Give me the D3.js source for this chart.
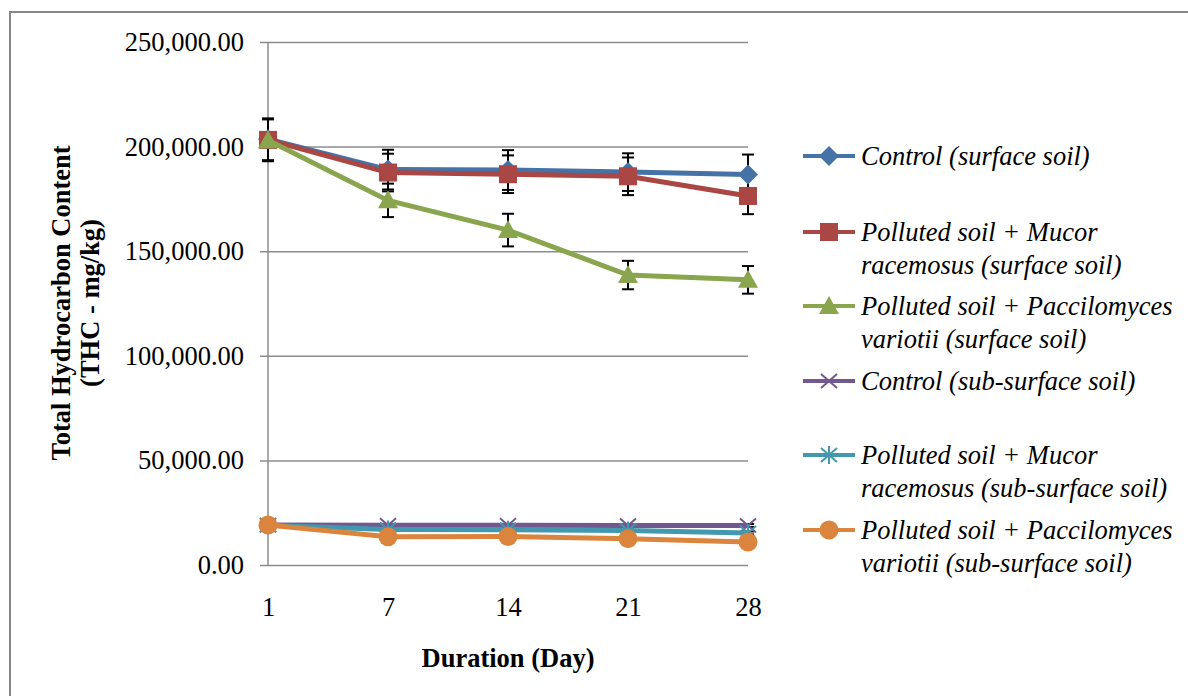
<!DOCTYPE html>
<html>
<head>
<meta charset="utf-8">
<script src="https://cdn.jsdelivr.net/npm/d3@7"></script>
<style>
  body { margin: 0; background: #fff; }
  svg text { font-family: "Liberation Serif", "Times New Roman", serif; }
</style>
</head>
<body>
<div id="chart"></div>
<script>
const days = ["1", "7", "14", "21", "28"];
const yTicks = [0, 50000, 100000, 150000, 200000, 250000];

const seriesNames = [
  ["Control (surface soil)"],
  ["Polluted soil + Mucor", "racemosus (surface soil)"],
  ["Polluted soil + Paccilomyces", "variotii (surface soil)"],
  ["Control (sub-surface soil)"],
  ["Polluted soil + Mucor", "racemosus (sub-surface soil)"],
  ["Polluted soil + Paccilomyces", "variotii (sub-surface soil)"]
];
const seriesColors = ["#4572a7", "#aa4643", "#89a54e", "#71588f", "#4198af", "#db843d"];
const seriesMarkers = ["diamond", "square", "triangle", "x", "star", "circle"];

const controlSurface = [203500, 189000, 188800, 187800, 186700];
const mucorSurface = [203200, 187600, 186800, 185800, 176400];
const paecilSurface = [203000, 174300, 160100, 138600, 136300];
const controlSub = [19100, 19000, 19000, 18900, 18900];
const mucorSub = [19000, 17000, 16900, 16500, 15300];
const paecilSub = [19100, 13500, 13600, 12600, 11000];

const controlSurfaceErr = [10000, 9500, 9500, 9000, 9500];
const mucorSurfaceErr = [10000, 9000, 9000, 9000, 8700];
const paecilSurfaceErr = [10000, 8000, 7800, 6800, 6600];
const controlSubErr = [500, 500, 500, 500, 700];
const mucorSubErr = [500, 500, 500, 500, 700];
const paecilSubErr = [500, 500, 500, 500, 500];

const values = [controlSurface, mucorSurface, paecilSurface, controlSub, mucorSub, paecilSub];
const errors = [controlSurfaceErr, mucorSurfaceErr, paecilSurfaceErr, controlSubErr, mucorSubErr, paecilSubErr];

const W = 1188, H = 696;
const plot = { left: 268, right: 748, top: 42, bottom: 565 };
const fontSize = "26.5px";

const svg = d3.select("#chart").append("svg")
  .attr("width", W)
  .attr("height", H);

svg.append("rect")
  .attr("x", 10).attr("y", 12)
  .attr("width", W + 10).attr("height", H + 10)
  .attr("fill", "#fff")
  .attr("stroke", "#878787")
  .attr("stroke-width", 2);

const x = d3.scalePoint().domain(days).range([plot.left, plot.right]);
const y = d3.scaleLinear().domain([0, 250000]).range([plot.bottom, plot.top]);

// gridlines + y axis
const yAxis = d3.axisLeft(y)
  .tickValues(yTicks)
  .tickSize(-(plot.right - plot.left + 8))
  .tickSizeOuter(0)
  .tickPadding(16)
  .tickFormat(d3.format(",.2f"));

const gy = svg.append("g")
  .attr("transform", "translate(" + (plot.left - 8) + ",0)")
  .call(yAxis);
gy.select(".domain").remove();
gy.selectAll(".tick line").attr("stroke", "#8c8c8c").attr("stroke-width", 1.5);
gy.selectAll(".tick text")
  .attr("fill", "#000")
  .style("font-size", fontSize);

svg.append("line")
  .attr("x1", plot.left).attr("x2", plot.left)
  .attr("y1", plot.top).attr("y2", plot.bottom)
  .attr("stroke", "#8c8c8c").attr("stroke-width", 1.5);

const xAxis = d3.axisBottom(x).tickSize(0).tickPadding(32);
const gx = svg.append("g")
  .attr("transform", "translate(0," + plot.bottom + ")")
  .call(xAxis);
gx.select(".domain").remove();
gx.selectAll(".tick text").attr("fill", "#000").style("font-size", fontSize);

// axis titles
svg.append("text")
  .attr("x", 508).attr("y", 667)
  .attr("text-anchor", "middle")
  .style("font-size", fontSize)
  .style("font-weight", "bold")
  .text("Duration (Day)");

const yTitle = svg.append("text")
  .attr("transform", "translate(70,303) rotate(-90)")
  .attr("text-anchor", "middle")
  .style("font-size", fontSize)
  .style("font-weight", "bold");
yTitle.append("tspan").attr("x", 0).attr("dy", 0).text("Total Hydrocarbon Content");
yTitle.append("tspan").attr("x", 0).attr("dy", 29).text("(THC - mg/kg)");

function drawMarker(g, type, color, cx, cy) {
  if (type === "diamond") {
    g.append("path")
      .attr("d", `M${cx},${cy - 10}L${cx + 10},${cy}L${cx},${cy + 10}L${cx - 10},${cy}Z`)
      .attr("fill", color);
  } else if (type === "square") {
    g.append("rect").attr("x", cx - 9).attr("y", cy - 9).attr("width", 18).attr("height", 18).attr("fill", color);
  } else if (type === "triangle") {
    g.append("path")
      .attr("d", `M${cx},${cy - 10}L${cx + 10},${cy + 8}L${cx - 10},${cy + 8}Z`)
      .attr("fill", color);
  } else if (type === "circle") {
    g.append("circle").attr("cx", cx).attr("cy", cy).attr("r", 9.5).attr("fill", color);
  } else if (type === "x") {
    g.append("path")
      .attr("d", `M${cx - 8},${cy - 7}L${cx + 8},${cy + 7}M${cx - 8},${cy + 7}L${cx + 8},${cy - 7}`)
      .attr("stroke", color).attr("stroke-width", 2);
  } else if (type === "star") {
    g.append("path")
      .attr("d", `M${cx - 8},${cy - 7}L${cx + 8},${cy + 7}M${cx - 8},${cy + 7}L${cx + 8},${cy - 7}M${cx},${cy - 9}L${cx},${cy + 9}`)
      .attr("stroke", color).attr("stroke-width", 2);
  }
}

const line = d3.line()
  .x((d, i) => x(days[i]))
  .y(d => y(d));

// error bars
values.forEach((vals, s) => {
  const g = svg.append("g");
  vals.forEach((v, i) => {
    const cx = x(days[i]);
    const e = errors[s][i];
    g.append("line")
      .attr("x1", cx).attr("x2", cx)
      .attr("y1", y(v + e)).attr("y2", y(v - e))
      .attr("stroke", "#000").attr("stroke-width", 2);
    [v + e, v - e].forEach(t => {
      g.append("line")
        .attr("x1", cx - 6).attr("x2", cx + 6)
        .attr("y1", y(t)).attr("y2", y(t))
        .attr("stroke", "#000").attr("stroke-width", 2);
    });
  });
});

// series lines and markers
values.forEach((vals, s) => {
  const g = svg.append("g");
  g.append("path")
    .datum(vals)
    .attr("d", line)
    .attr("fill", "none")
    .attr("stroke", seriesColors[s])
    .attr("stroke-width", 5);
  vals.forEach((v, i) => drawMarker(g, seriesMarkers[s], seriesColors[s], x(days[i]), y(v)));
});

// legend
const legendY = [156, 232, 306, 381, 455, 530];
seriesNames.forEach((lines, s) => {
  const g = svg.append("g");
  const ly = legendY[s];
  g.append("line")
    .attr("x1", 803).attr("x2", 855)
    .attr("y1", ly).attr("y2", ly)
    .attr("stroke", seriesColors[s])
    .attr("stroke-width", 4);
  drawMarker(g, seriesMarkers[s], seriesColors[s], 829, ly);
  const t = g.append("text")
    .attr("x", 861).attr("y", ly + 9)
    .style("font-size", fontSize)
    .style("font-style", "italic")
    .attr("fill", "#000");
  lines.forEach((txt, k) => {
    t.append("tspan").attr("x", 861).attr("dy", k === 0 ? 0 : 32.5).text(txt);
  });
});
</script>
</body>
</html>
